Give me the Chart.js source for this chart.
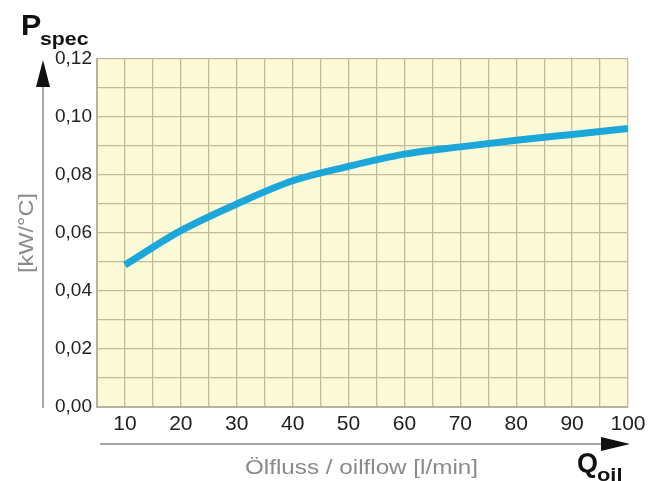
<!DOCTYPE html>
<html>
<head>
<meta charset="utf-8">
<script src="https://cdn.jsdelivr.net/npm/chart.js@4"></script>
<style>
  html, body { margin: 0; padding: 0; background: #fff; }
  #wrap { width: 662px; height: 481px; }
</style>
</head>
<body>
<div id="wrap"><canvas id="chart" width="662" height="481"></canvas></div>
<script>
// oil flow [l/min] and specific power [kW/°C]
const flow = [10, 20, 30, 40, 50, 60, 70, 80, 90, 100];
const pSpec = [0.049, 0.0608, 0.070, 0.078, 0.083, 0.0872, 0.0897, 0.092, 0.094, 0.096];
const yTicks = [0, 0.02, 0.04, 0.06, 0.08, 0.10, 0.12];
const xTicks = [10, 20, 30, 40, 50, 60, 70, 80, 90, 100];

// stretched text helper (the original lettering is a bit wide)
function wideText(ctx, txt, x, y, sx) {
  ctx.save();
  ctx.translate(x, y);
  ctx.scale(sx, 1);
  ctx.fillText(txt, 0, 0);
  ctx.restore();
}

// background + arrows + axis titles
const decor = {
  id: 'decor',
  beforeDraw(chart) {
    const { ctx, chartArea: a } = chart;
    ctx.save();
    ctx.fillStyle = '#fdfbd7';
    ctx.fillRect(a.left, a.top, a.right - a.left, a.bottom - a.top);
    ctx.restore();
  },
  afterDraw(chart) {
    const { ctx, chartArea: a } = chart;
    ctx.save();
    // y arrow
    ctx.strokeStyle = '#888';
    ctx.lineWidth = 1.5;
    ctx.beginPath();
    ctx.moveTo(43, 84);
    ctx.lineTo(43, a.bottom + 1);
    ctx.stroke();
    ctx.fillStyle = '#111';
    ctx.beginPath();
    ctx.moveTo(43, 60);
    ctx.lineTo(50, 87);
    ctx.lineTo(36, 87);
    ctx.closePath();
    ctx.fill();
    // x arrow
    ctx.beginPath();
    ctx.moveTo(100, 444);
    ctx.lineTo(604, 444);
    ctx.stroke();
    ctx.beginPath();
    ctx.moveTo(630, 444);
    ctx.lineTo(601, 437);
    ctx.lineTo(601, 451);
    ctx.closePath();
    ctx.fill();

    ctx.fillStyle = '#111';
    ctx.textBaseline = 'alphabetic';
    ctx.font = 'bold 29px "Liberation Sans", Arial, sans-serif';
    wideText(ctx, 'P', 21, 35, 1.05);
    ctx.font = 'bold 19px "Liberation Sans", Arial, sans-serif';
    wideText(ctx, 'spec', 40, 45, 1.12);
    ctx.font = 'bold 27px "Liberation Sans", Arial, sans-serif';
    wideText(ctx, 'Q', 577, 472, 1.0);
    ctx.font = 'bold 19px "Liberation Sans", Arial, sans-serif';
    wideText(ctx, 'oil', 597, 481, 1.15);

    ctx.fillStyle = '#8a8a8a';
    ctx.font = '20px "Liberation Sans", Arial, sans-serif';
    ctx.textAlign = 'left';
    const t = 'Ölfluss / oilflow [l/min]';
    const sx = 233 / ctx.measureText(t).width;
    wideText(ctx, t, 245, 474, sx);
    ctx.translate(33, 233);
    ctx.rotate(-Math.PI / 2);
    const u = '[kW/°C]';
    const su = 80 / ctx.measureText(u).width;
    ctx.textAlign = 'center';
    ctx.scale(su, 1);
    ctx.fillText(u, 0, 0);
    ctx.restore();
  }
};

const fmt = v => v.toFixed(2).replace('.', ',');

new Chart(document.getElementById('chart'), {
  type: 'line',
  data: {
    datasets: [{
      data: flow.map((x, i) => ({ x: x, y: pSpec[i] })),
      borderColor: '#1ba7da',
      borderWidth: 7,
      pointRadius: 0,
      tension: 0.4,
      cubicInterpolationMode: 'monotone',
      borderCapStyle: 'butt'
    }]
  },
  options: {
    responsive: false,
    animation: false,
    layout: { padding: { left: 0, top: 59, right: 34, bottom: 0 } },
    plugins: { legend: { display: false }, tooltip: { enabled: false } },
    scales: {
      x: {
        type: 'linear',
        min: 5,
        max: 100,
        afterFit: s => { s.height = 74; },
        afterBuildTicks: s => {
          const t = [];
          for (let v = 5; v <= 100; v += 5) t.push({ value: v });
          s.ticks = t;
        },
        ticks: {
          autoSkip: false,
          maxRotation: 0,
          padding: 5,
          color: '#222',
          font: { family: '"Liberation Sans", Arial, sans-serif', size: 21 },
          callback: v => xTicks.includes(v) ? String(v) : ''
        },
        grid: { color: '#c2bc9c', lineWidth: 1.3, drawTicks: false },
        border: { color: '#b8b39c', width: 2 }
      },
      y: {
        min: 0,
        max: 0.12,
        afterFit: s => { s.width = 97; },
        afterBuildTicks: s => {
          const t = [];
          for (let i = 0; i <= 12; i++) t.push({ value: i / 100 });
          s.ticks = t;
        },
        ticks: {
          autoSkip: false,
          padding: 5,
          color: '#222',
          font: { family: '"Liberation Sans", Arial, sans-serif', size: 19 },
          callback: v => yTicks.some(t => Math.abs(t - v) < 1e-6) ? fmt(v) : ''
        },
        grid: { color: '#c2bc9c', lineWidth: 1.3, drawTicks: false },
        border: { color: '#b8b39c', width: 2 }
      }
    }
  },
  plugins: [decor]
});
</script>
</body>
</html>
